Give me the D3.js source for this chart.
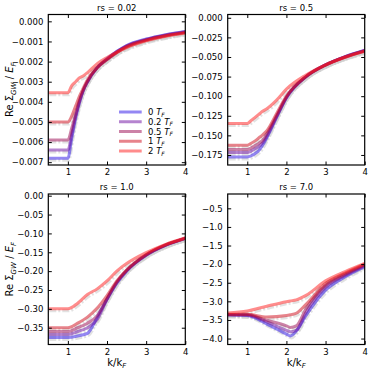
<!DOCTYPE html>
<html>
<head>
<meta charset="utf-8">
<script src="https://cdn.jsdelivr.net/npm/d3@7"></script>
<style>
  body { margin: 0; background: #fff; }
  svg text { font-family: "DejaVu Sans", sans-serif; fill: #000; }
  .axis path { display: none; }
  .axis line { stroke: #000; }
</style>
</head>
<body>
<svg id="chart" width="374" height="372"></svg>
<script>
// temperatures in the legend
var temps = ["0", "0.2", "0.5", "1", "2"];
var colors = ["#2a10e8", "#6c0aa0", "#9a0650", "#d00818", "#ff1a1a"];

// rs = 0.02
var k002 = [0.5, 1.0, 1.1, 1.2, 1.3, 1.4, 1.5, 1.75, 2.0, 2.5, 3.0, 3.5, 4.0];
var rs002 = [
  [-0.0068, -0.0068, -0.0058, -0.0048, -0.0040, -0.0034, -0.0030, -0.0023, -0.00185, -0.0012, -0.00088, -0.00066, -0.0005],
  [-0.0064, -0.0064, -0.0056, -0.0047, -0.0040, -0.0034, -0.0030, -0.0023, -0.00187, -0.00122, -0.0009, -0.00068, -0.00052],
  [-0.0059, -0.0059, -0.0053, -0.0046, -0.0039, -0.0034, -0.0030, -0.0023, -0.0019, -0.00124, -0.00092, -0.0007, -0.00054],
  [-0.0050, -0.0050, -0.0047, -0.0042, -0.0037, -0.0033, -0.0029, -0.0023, -0.0019, -0.00127, -0.00094, -0.00072, -0.00056],
  [-0.00355, -0.00355, -0.0032, -0.0030, -0.0028, -0.0027, -0.00255, -0.0021, -0.0018, -0.0013, -0.00097, -0.00074, -0.00058]
];

// rs = 0.5
var k05 = [0.5, 1.0, 1.1, 1.2, 1.3, 1.4, 1.5, 1.75, 2.0, 2.5, 3.0, 3.5, 4.0];
var rs05 = [
  [-0.1775, -0.1775, -0.176, -0.173, -0.169, -0.162, -0.153, -0.127, -0.102, -0.075, -0.060, -0.0495, -0.0413],
  [-0.172, -0.172, -0.170, -0.167, -0.164, -0.159, -0.151, -0.126, -0.102, -0.075, -0.060, -0.0497, -0.0416],
  [-0.168, -0.168, -0.166, -0.163, -0.160, -0.156, -0.148, -0.125, -0.101, -0.075, -0.060, -0.050, -0.042],
  [-0.1625, -0.1625, -0.160, -0.157, -0.153, -0.149, -0.144, -0.122, -0.100, -0.075, -0.0603, -0.050, -0.0423],
  [-0.1348, -0.1348, -0.131, -0.127, -0.123, -0.119, -0.116, -0.105, -0.091, -0.073, -0.060, -0.0503, -0.0428]
];

// rs = 1.0
var k10 = [0.5, 1.0, 1.25, 1.5, 1.75, 2.0, 2.25, 2.5, 3.0, 3.5, 4.0];
var rs10 = [
  [-0.376, -0.376, -0.372, -0.365, -0.322, -0.275, -0.232, -0.200, -0.158, -0.131, -0.113],
  [-0.368, -0.368, -0.360, -0.350, -0.328, -0.274, -0.230, -0.199, -0.157, -0.131, -0.113],
  [-0.360, -0.360, -0.350, -0.338, -0.318, -0.273, -0.229, -0.198, -0.157, -0.131, -0.113],
  [-0.350, -0.350, -0.338, -0.322, -0.298, -0.265, -0.226, -0.197, -0.156, -0.130, -0.112],
  [-0.300, -0.300, -0.285, -0.262, -0.247, -0.226, -0.200, -0.180, -0.151, -0.129, -0.112]
];

// rs = 7.0
var k70 = [0.5, 1.0, 1.5, 2.0, 2.1, 2.25, 2.5, 3.0, 3.5, 4.0];
var rs70 = [
  [-3.36, -3.38, -3.61, -3.88, -3.93, -3.80, -3.38, -2.70, -2.34, -2.07],
  [-3.36, -3.37, -3.55, -3.78, -3.82, -3.78, -3.30, -2.62, -2.30, -2.04],
  [-3.36, -3.36, -3.51, -3.66, -3.70, -3.66, -3.20, -2.57, -2.27, -2.02],
  [-3.35, -3.35, -3.42, -3.38, -3.36, -3.32, -3.08, -2.52, -2.24, -2.00],
  [-3.31, -3.26, -3.13, -3.01, -2.99, -2.96, -2.84, -2.45, -2.20, -1.98]
];

var yTicks002 = [0, -0.001, -0.002, -0.003, -0.004, -0.005, -0.006, -0.007];
var yTicks05 = [0, -0.025, -0.05, -0.075, -0.1, -0.125, -0.15, -0.175];
var yTicks10 = [0, -0.05, -0.1, -0.15, -0.2, -0.25, -0.3, -0.35];
var yTicks70 = [-0.5, -1.0, -1.5, -2.0, -2.5, -3.0, -3.5, -4.0];
var xTicks = [1, 2, 3, 4];

var svg = d3.select("#chart");
var minus = function(s) { return s.replace("-", "\u2212"); };

var panels = [
  {title: "rs = 0.02", k: k002, ys: rs002, ticks: yTicks002, fmt: d3.format(".3f"), y0: [-0.00714, 0.00034], left: 48.3, top: 14.5, ylab: true, xlab: false, legend: true},
  {title: "rs = 0.5", k: k05, ys: rs05, ticks: yTicks05, fmt: d3.format(".3f"), y0: [-0.1878, 0.0042], left: 227.7, top: 14.5, ylab: false, xlab: false},
  {title: "rs = 1.0", k: k10, ys: rs10, ticks: yTicks10, fmt: d3.format(".2f"), y0: [-0.3945, 0.0045], left: 48.3, top: 194, ylab: true, xlab: true},
  {title: "rs = 7.0", k: k70, ys: rs70, ticks: yTicks70, fmt: d3.format(".1f"), y0: [-4.16, -0.115], left: 227.7, top: 194, ylab: false, xlab: true}
];
var pw = 137, ph = 150.5;

panels.forEach(function(p, pi) {
  var g = svg.append("g").attr("transform", "translate(" + p.left + "," + p.top + ")");
  var x = d3.scaleLinear().domain([0.5, 4]).range([0, pw]);
  var y = d3.scaleLinear().domain(p.y0).range([ph, 0]);

  g.append("defs").append("clipPath").attr("id", "clip" + pi)
    .append("rect").attr("width", pw).attr("height", ph);
  var plot = g.append("g").attr("clip-path", "url(#clip" + pi + ")");

  var line = d3.line()
    .x(function(d) { return x(d[0]); })
    .y(function(d) { return y(d[1]); })
    .curve(d3.curveMonotoneX);

  // light gray dash-dot reference curves underneath
  p.ys.forEach(function(s) {
    plot.append("path")
      .datum(p.k.map(function(kk, i) { return [kk, s[i]]; }))
      .attr("d", line)
      .attr("fill", "none")
      .attr("stroke", "#cfcfcf")
      .attr("stroke-opacity", 0.6)
      .attr("stroke-width", 3)
      .attr("stroke-dasharray", "7,2,2,2")
      .attr("transform", "translate(1,2)");
  });
  p.ys.forEach(function(s, j) {
    plot.append("path")
      .datum(p.k.map(function(kk, i) { return [kk, s[i]]; }))
      .attr("d", line)
      .attr("fill", "none")
      .attr("stroke", colors[j])
      .attr("stroke-opacity", 0.5)
      .attr("stroke-width", 3);
  });

  // axes, ticks inward on all sides
  var ax = function(a) {
    a.selectAll("text").style("font-size", "8.5px").style("font-family", "DejaVu Sans");
  };
  g.append("g").attr("class", "axis").attr("transform", "translate(0," + ph + ")")
    .call(d3.axisBottom(x).tickValues(xTicks).tickSizeInner(-3.5).tickPadding(4).tickFormat(d3.format("d")))
    .call(ax);
  g.append("g").attr("class", "axis")
    .call(d3.axisTop(x).tickValues(xTicks).tickSizeInner(-3.5).tickFormat(""));
  g.append("g").attr("class", "axis")
    .call(d3.axisLeft(y).tickValues(p.ticks).tickSizeInner(-3.5).tickPadding(5).tickFormat(function(d) { return minus(p.fmt(d)); }))
    .call(ax);
  g.append("g").attr("class", "axis").attr("transform", "translate(" + pw + ",0)")
    .call(d3.axisRight(y).tickValues(p.ticks).tickSizeInner(-3.5).tickFormat(""));

  g.append("rect").attr("width", pw).attr("height", ph)
    .attr("fill", "none").attr("stroke", "#000").attr("stroke-width", 1.2);

  g.append("text").attr("x", pw / 2).attr("y", -4)
    .attr("text-anchor", "middle").style("font-size", "8.5px").text(p.title);

  if (p.ylab) {
    var t = g.append("text")
      .attr("transform", "translate(" + (-35) + "," + (ph / 2) + ") rotate(-90)")
      .attr("text-anchor", "middle").style("font-size", "10px");
    t.append("tspan").text("Re \u03A3");
    t.append("tspan").attr("dy", 2.5).style("font-size", "7px").style("font-style", "italic").text("GW");
    t.append("tspan").attr("dy", -2.5).text(" / ");
    t.append("tspan").style("font-style", "italic").text("E");
    t.append("tspan").attr("dy", 2.5).style("font-size", "7px").style("font-style", "italic").text("F");
  }
  if (p.xlab) {
    var t2 = g.append("text").attr("x", pw / 2).attr("y", ph + 21)
      .attr("text-anchor", "middle").style("font-size", "10px");
    t2.append("tspan").text("k/k");
    t2.append("tspan").attr("dy", 2.5).style("font-size", "7px").style("font-style", "italic").text("F");
  }

  if (p.legend) {
    var lg = g.append("g").attr("transform", "translate(70.7," + (112 - p.top) + ")");
    temps.forEach(function(tp, j) {
      var row = lg.append("g").attr("transform", "translate(0," + (j * 9.75) + ")");
      row.append("line").attr("x1", 0).attr("x2", 22.7)
        .attr("stroke", colors[j]).attr("stroke-opacity", 0.5).attr("stroke-width", 3);
      var tt = row.append("text").attr("x", 29).attr("y", 3).style("font-size", "8.5px");
      tt.append("tspan").text(tp + " ");
      tt.append("tspan").style("font-style", "italic").text("T");
      tt.append("tspan").attr("dy", 1.5).style("font-size", "6px").style("font-style", "italic").text("F");
    });
  }
});
</script>
</body>
</html>
